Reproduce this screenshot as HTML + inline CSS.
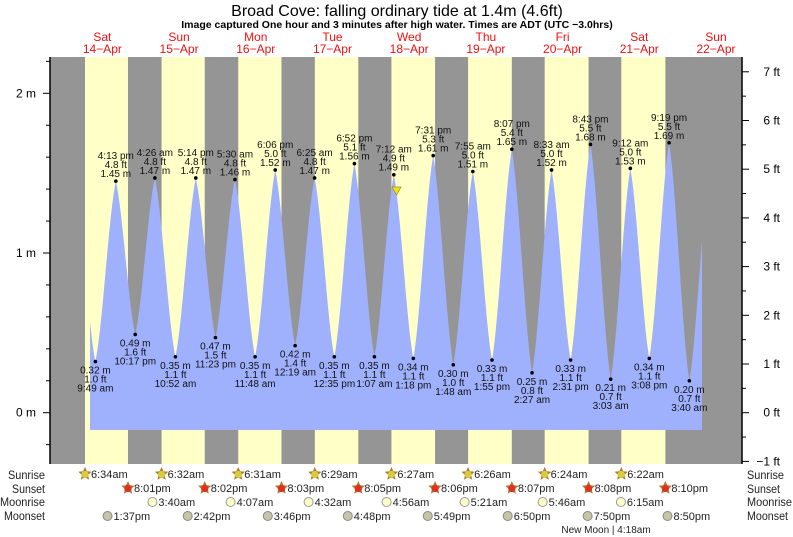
<!DOCTYPE html>
<html><head><meta charset="utf-8"><style>
html,body{margin:0;padding:0;background:#fff;width:793px;height:537px;overflow:hidden}
svg{display:block;font-family:"Liberation Sans",Arial,sans-serif}
</style></head><body>
<svg id="s" width="793" height="537" xmlns="http://www.w3.org/2000/svg"></svg>
<script>
var X0=64,PH=3.196;function X(t){return X0+t*PH}
var Y0=412.7,PM=159.7;function Y(h){return Y0-h*PM}
function tm(d,s){var p=s.match(/(\d+):(\d+)\s*(am|pm)/);var h=+p[1]%12;if(p[3]=='pm')h+=12;return d*24+h+ +p[2]/60}
var o='';
o+='<rect x="50" y="57" width="692" height="407" fill="#959595"/>';
var sr=['6:34am','6:32am','6:31am','6:29am','6:27am','6:26am','6:24am','6:22am'];
var ss=['8:01pm','8:02pm','8:03pm','8:05pm','8:06pm','8:07pm','8:08pm','8:10pm'];
for(var d=0;d<8;d++){var a=X(tm(d,sr[d])),b=X(tm(d,ss[d]));o+='<rect x="'+a+'" y="57" width="'+(b-a)+'" height="407" fill="#ffffc8"/>';}
var ex=[[0,'3:36 am',1.43,1],[0,'9:49 am',.32,0],[0,'4:13 pm',1.45,1],[0,'10:17 pm',.49,0],
[1,'4:26 am',1.47,1],[1,'10:52 am',.35,0],[1,'5:14 pm',1.47,1],[1,'11:23 pm',.47,0],
[2,'5:30 am',1.46,1],[2,'11:48 am',.35,0],[2,'6:06 pm',1.52,1],
[3,'12:19 am',.42,0],[3,'6:25 am',1.47,1],[3,'12:35 pm',.35,0],[3,'6:52 pm',1.56,1],
[4,'1:07 am',.35,0],[4,'7:12 am',1.49,1],[4,'1:18 pm',.34,0],[4,'7:31 pm',1.61,1],
[5,'1:48 am',.30,0],[5,'7:55 am',1.51,1],[5,'1:55 pm',.33,0],[5,'8:07 pm',1.65,1],
[6,'2:27 am',.25,0],[6,'8:33 am',1.52,1],[6,'2:31 pm',.33,0],[6,'8:43 pm',1.68,1],
[7,'3:03 am',.21,0],[7,'9:12 am',1.53,1],[7,'3:08 pm',.34,0],[7,'9:19 pm',1.69,1],
[8,'3:40 am',.20,0],[8,'9:50 am',1.5,1]];
ex.forEach(function(e){e.t=tm(e[0],e[1])});
function H(t){for(var i=0;i<ex.length-1;i++){var a=ex[i],b=ex[i+1];if(t>=a.t&&t<=b.t){var f=(t-a.t)/(b.t-a.t);var g=0.55*f+0.45*(1-Math.cos(Math.PI*f))/2;return a[2]+(b[2]-a[2])*g}}return .5}
var p='M90,430';for(var x=90;x<=702;x+=0.5){p+=' L'+x+','+Y(H((x-X0)/PH)).toFixed(1)}p+=' L702,430 Z';
o+='<path d="'+p+'" fill="#9fb1fd"/>';
ex.slice(1,32).forEach(function(e){var x=X(e.t),y=Y(e[2]),ft=(e[2]*3.2808).toFixed(1);
o+='<circle cx="'+x+'" cy="'+y+'" r="1.8" fill="#000"/>';
var L=e[1],m=e[2].toFixed(2)+' m',f=ft+' ft';
var s='font-size="10" fill="#111" text-anchor="middle"';
if(e[3]){o+='<text x="'+x+'" y="'+(y-22)+'" '+s+'>'+L+'</text><text x="'+x+'" y="'+(y-13)+'" '+s+'>'+f+'</text><text x="'+x+'" y="'+(y-4)+'" '+s+'>'+m+'</text>';}
else{o+='<text x="'+x+'" y="'+(y+12)+'" '+s+'>'+m+'</text><text x="'+x+'" y="'+(y+21)+'" '+s+'>'+f+'</text><text x="'+x+'" y="'+(y+30)+'" '+s+'>'+L+'</text>';}
});
o+='<polygon points="392,187 401,187 396.5,195" fill="#f0e020" stroke="#a09000" stroke-width="0.7"/>';
o+='<line x1="50" y1="57" x2="50" y2="464" stroke="#000" stroke-width="1.5"/><line x1="742" y1="57" x2="742" y2="464" stroke="#000" stroke-width="1.5"/>';
for(var h=-0.2;h<=2.2;h+=0.2){var y=Y(h);if(y<57||y>464)continue;var maj=Math.abs(h-Math.round(h))<.01;o+='<line x1="'+(maj?43:46)+'" y1="'+y+'" x2="50" y2="'+y+'" stroke="#000"/>';if(maj)o+='<text x="36" y="'+(y+4)+'" font-size="12" text-anchor="end">'+Math.round(h)+' m</text>';}
for(var f=-1;f<=7.5;f+=0.5){var y=Y0-f*48.7;if(y<57||y>465)continue;var maj=f%1==0;o+='<line x1="742" y1="'+y+'" x2="'+(maj?749:746)+'" y2="'+y+'" stroke="#000"/>';if(maj)o+='<text x="780" y="'+(y+4)+'" font-size="12" text-anchor="end">'+(f<0?'\u2212'+(-f):f)+' ft</text>';}
o+='<text x="397" y="16" font-size="16" text-anchor="middle">Broad Cove: falling  ordinary tide at 1.4m (4.6ft)</text>';
o+='<text x="397" y="28" font-size="10.5" font-weight="bold" text-anchor="middle">Image captured One hour and 3 minutes after high water. Times are ADT (UTC \u22123.0hrs)</text>';
var dn=['Sat','Sun','Mon','Tue','Wed','Thu','Fri','Sat','Sun'];
for(var d=0;d<9;d++){var x=X(d*24+12);o+='<text x="'+x+'" y="41" font-size="12" fill="#f01010" text-anchor="middle">'+dn[d]+'</text><text x="'+x+'" y="53" font-size="12" fill="#f01010" text-anchor="middle">'+(14+d)+'\u2212Apr</text>';}
var rows=[['Sunrise',479,37],['Sunset',493,33],['Moonrise',506,45],['Moonset',520,41]];
rows.forEach(function(r){o+='<text x="'+(45-r[2])+'" y="'+r[1]+'" font-size="11.5" textLength="'+r[2]+'" lengthAdjust="spacingAndGlyphs" fill="#222">'+r[0]+'</text><text x="747" y="'+r[1]+'" font-size="11.5" textLength="'+r[2]+'" lengthAdjust="spacingAndGlyphs" fill="#222">'+r[0]+'</text>';});
function star(x,y,c){var pts='';for(var i=0;i<10;i++){var r=i%2?3.3:7,a=-Math.PI/2+i*Math.PI/5;pts+=(x+r*Math.cos(a)).toFixed(1)+','+(y+r*Math.sin(a)).toFixed(1)+' ';}return '<polygon points="'+pts+'" fill="#b07a30"/><circle cx="'+x+'" cy="'+(y+0.5)+'" r="3.6" fill="'+c+'"/>';}
function lab(x,y,t){return '<text x="'+(x+6)+'" y="'+(y+4)+'" font-size="11" fill="#222">'+t+'</text>';}
for(var d=0;d<8;d++){var x=X(tm(d,sr[d]));o+=star(x,474,'#d8cc3c')+lab(x,474,sr[d]);x=X(tm(d,ss[d]));o+=star(x,488,'#e03020')+lab(x,488,ss[d]);}
var mr=['3:40am','4:07am','4:32am','4:56am','5:21am','5:46am','6:15am'];
for(var d=0;d<7;d++){var x=X(tm(d+1,mr[d]));o+='<circle cx="'+x+'" cy="502" r="4.5" fill="#ffffc8" stroke="#999"/>'+lab(x,502,mr[d]);}
var ms=['1:37pm','2:42pm','3:46pm','4:48pm','5:49pm','6:50pm','7:50pm','8:50pm'];
for(var d=0;d<8;d++){var x=X(tm(d,ms[d]));o+='<circle cx="'+x+'" cy="516" r="4.5" fill="#c8c4a8" stroke="#888"/>'+lab(x,516,ms[d]);}
o+='<text x="606" y="533" font-size="10" text-anchor="middle" fill="#222">New Moon | 4:18am</text>';
document.getElementById('s').innerHTML=o;
</script>
</body></html>
